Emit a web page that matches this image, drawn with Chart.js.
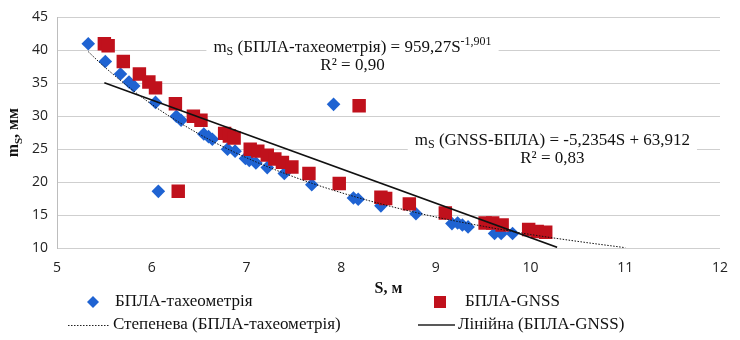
<!DOCTYPE html>
<html>
<head>
<meta charset="utf-8">
<script src="https://cdn.jsdelivr.net/npm/chart.js@4.4.1/dist/chart.umd.min.js"></script>
<style>
  body { margin: 0; background: #fff; }
  canvas { display: block; }
</style>
</head>
<body>
<canvas id="chart" width="740" height="340"></canvas>
<script>
// БПЛА-тахеометрія (blue diamonds)
const tachoS = [5.33, 5.51, 5.67, 5.76, 5.81, 6.04, 6.07, 6.26, 6.31, 6.55, 6.60, 6.64, 6.80, 6.88,
  6.99, 7.03, 7.10, 7.22, 7.40, 7.69, 7.92, 8.13, 8.18, 8.42, 8.79, 9.17, 9.23, 9.28, 9.34, 9.62, 9.69, 9.81];
const tachoM = [41.0, 38.3, 36.4, 35.2, 34.6, 32.1, 18.6, 30.0, 29.4, 27.3, 26.9, 26.5, 25.0, 24.7,
  23.6, 23.3, 22.9, 22.2, 21.3, 19.6, 31.8, 17.6, 17.4, 16.4, 15.2, 13.7, 13.8, 13.5, 13.2, 12.2, 12.2, 12.2];

// БПЛА-GNSS (red squares)
const gnssS = [5.50, 5.54, 5.70, 5.87, 5.97, 6.04, 6.25, 6.28, 6.44, 6.52, 6.77, 6.82, 6.87, 7.04, 7.12,
  7.22, 7.30, 7.38, 7.48, 7.66, 7.98, 8.19, 8.42, 8.47, 8.72, 9.10, 9.52, 9.60, 9.70, 9.98, 10.07, 10.16];
const gnssM = [41.0, 40.7, 38.3, 36.4, 35.2, 34.3, 31.9, 18.6, 30.0, 29.4, 27.4, 27.0, 26.7, 25.0, 24.7,
  24.1, 23.5, 23.0, 22.3, 21.3, 19.8, 31.6, 17.7, 17.5, 16.7, 15.3, 13.8, 13.8, 13.5, 12.8, 12.5, 12.4];

// power trend (dotted)
const powerS = [5.33, 5.5, 6, 6.5, 7, 7.5, 8, 8.5, 9, 9.5, 10, 10.5, 11];
const powerM = [39.8, 37.5, 31.8, 27.3, 23.7, 20.8, 18.4, 16.4, 14.7, 13.3, 12.05, 11.0, 10.05];

// linear trend (solid), end points
const linS = [5.5, 10.28];
const linM = [35.1, 10.1];

const xTicks = [5, 6, 7, 8, 9, 10, 11, 12];
const yTicks = [10, 15, 20, 25, 30, 35, 40, 45];

const names = ['БПЛА-тахеометрія', 'БПЛА-GNSS', 'Степенева (БПЛА-тахеометрія)', 'Лінійна (БПЛА-GNSS)'];
const eq1 = ['m', 'S', ' (БПЛА-тахеометрія) = 959,27S', '-1,901', 'R² = 0,90'];
const eq2 = ['m', 'S', ' (GNSS-БПЛА) = -5,2354S + 63,912', '', 'R² = 0,83'];

const blue = '#1f63d2';
const red = '#c0111c';
const serif = '"Liberation Serif", "Times New Roman", serif';
const sans = '"Open Sans", "Liberation Sans", sans-serif';

function pts(xs, ys) {
  return xs.map((x, i) => ({ x: x, y: ys[i] }));
}

// text with sub/sup parts: [[text, kind], ...]
function richWidth(ctx, parts, size, weight) {
  let w = 0;
  parts.forEach(([t, k]) => {
    ctx.font = weight + ' ' + (k ? Math.round(size * 0.7) : size) + 'px ' + serif;
    w += ctx.measureText(t).width;
  });
  return w;
}
function drawRich(ctx, parts, x, y, size, weight) {
  let cx = x;
  parts.forEach(([t, k]) => {
    ctx.font = weight + ' ' + (k ? Math.round(size * 0.7) : size) + 'px ' + serif;
    const dy = k === 'sub' ? size * 0.22 : k === 'sup' ? -size * 0.38 : 0;
    ctx.fillText(t, cx, y + dy);
    cx += ctx.measureText(t).width;
  });
}

function drawEquation(ctx, eq, cx, y) {
  const line1 = [[eq[0], ''], [eq[1], 'sub'], [eq[2], ''], [eq[3], 'sup']];
  const w = richWidth(ctx, line1, 17, 'normal');
  ctx.fillStyle = '#fff';
  ctx.fillRect(cx - w / 2 - 7, y - 18, w + 14, 42);
  ctx.fillStyle = '#111';
  ctx.textAlign = 'left';
  ctx.textBaseline = 'alphabetic';
  drawRich(ctx, line1, cx - w / 2, y, 17, 'normal');
  ctx.font = '17px ' + serif;
  ctx.textAlign = 'center';
  ctx.fillText(eq[4], cx, y + 18);
}

const extras = {
  id: 'extras',
  beforeDatasetsDraw(chart) {
    const ctx = chart.ctx;
    const x = chart.scales.x, y = chart.scales.y;
    ctx.save();
    drawEquation(ctx, eq1, x.getPixelForValue(8.12), y.getPixelForValue(39.8));
    drawEquation(ctx, eq2, x.getPixelForValue(10.23), y.getPixelForValue(25.7));
    ctx.restore();
  },
  afterDraw(chart) {
    const ctx = chart.ctx;
    const area = chart.chartArea;
    ctx.save();
    ctx.fillStyle = '#111';
    ctx.textBaseline = 'alphabetic';

    // y title (rotated)
    const yt = [['m', ''], ['S', 'sub'], [', мм', '']];
    ctx.save();
    ctx.translate(18, (area.top + area.bottom) / 2);
    ctx.rotate(-Math.PI / 2);
    const yw = richWidth(ctx, yt, 16, 'bold');
    drawRich(ctx, yt, -yw / 2, 0, 16, 'bold');
    ctx.restore();

    // x title
    ctx.font = 'bold 16px ' + serif;
    ctx.textAlign = 'center';
    ctx.fillText('S, м', (area.left + area.right) / 2, 293);

    // legend
    ctx.font = '17px ' + serif;
    ctx.textAlign = 'left';
    ctx.textBaseline = 'middle';
    const r1 = 302, r2 = 325;
    ctx.fillStyle = blue;
    ctx.beginPath();
    ctx.moveTo(93, r1 - 6); ctx.lineTo(99, r1); ctx.lineTo(93, r1 + 6); ctx.lineTo(87, r1);
    ctx.closePath(); ctx.fill();
    ctx.fillStyle = red;
    ctx.fillRect(434, r1 - 6, 12, 12);
    ctx.fillStyle = '#111';
    ctx.fillText(names[0], 115, r1);
    ctx.fillText(names[1], 465, r1);
    ctx.fillText(names[2], 113, r2);
    ctx.fillText(names[3], 458, r2);
    ctx.strokeStyle = '#222';
    ctx.lineWidth = 1;
    ctx.setLineDash([1.5, 1.5]);
    ctx.beginPath(); ctx.moveTo(68, r2 + 0.5); ctx.lineTo(110, r2 + 0.5); ctx.stroke();
    ctx.setLineDash([]);
    ctx.lineWidth = 1.5;
    ctx.beginPath(); ctx.moveTo(418, r2); ctx.lineTo(455, r2); ctx.stroke();
    ctx.restore();
  }
};

new Chart(document.getElementById('chart'), {
  type: 'scatter',
  data: {
    datasets: [
      {
        label: names[2], data: pts(powerS, powerM), showLine: true, pointRadius: 0,
        borderColor: '#111', borderWidth: 1, borderDash: [1.5, 1.5], cubicInterpolationMode: 'monotone', order: 0
      },
      {
        label: names[3], data: pts(linS, linM), showLine: true, pointRadius: 0,
        borderColor: '#111', borderWidth: 1.6, order: 0
      },
      {
        label: names[1], data: pts(gnssS, gnssM), pointStyle: 'rect', pointRadius: 9.5,
        backgroundColor: red, borderWidth: 0, order: 1
      },
      {
        label: names[0], data: pts(tachoS, tachoM), pointStyle: 'rectRot', pointRadius: 6.8,
        backgroundColor: blue, borderWidth: 0, order: 2
      }
    ]
  },
  options: {
    responsive: false,
    animation: false,
    layout: { padding: { top: 12, right: 12, left: 0, bottom: 0 } },
    plugins: { legend: { display: false }, tooltip: { enabled: false } },
    scales: {
      x: {
        type: 'linear',
        min: xTicks[0], max: xTicks[xTicks.length - 1],
        afterBuildTicks: s => { s.ticks = xTicks.map(v => ({ value: v })); },
        afterFit: s => { s.height = 92; },
        grid: { display: false, drawTicks: false },
        border: { display: false },
        ticks: { color: '#222', font: { family: sans, size: 14 }, padding: 12 }
      },
      y: {
        min: yTicks[0], max: yTicks[yTicks.length - 1],
        afterBuildTicks: s => { s.ticks = yTicks.map(v => ({ value: v })); },
        afterFit: s => { s.width = 57; },
        grid: { color: '#cfcfcf', drawTicks: false },
        border: { display: true, color: '#bdbdbd' },
        ticks: { color: '#222', font: { family: sans, size: 14 }, padding: 9 }
      }
    }
  },
  plugins: [extras]
});
</script>
</body>
</html>
